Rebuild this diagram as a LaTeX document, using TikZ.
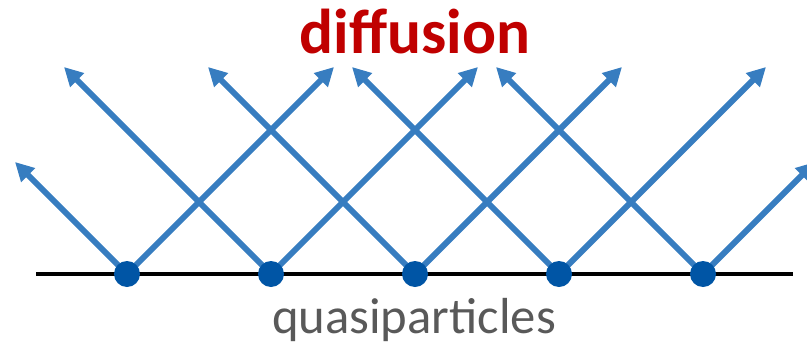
\documentclass[tikz,border=0pt]{standalone}
\usepackage{fontspec}
\setmainfont{Carlito}
\usepackage{tikz}
\usetikzlibrary{
    arrows.meta
}
\definecolor{rayblue}{RGB}{55,125,192}
\definecolor{dotblue}{RGB}{0,85,165}
\definecolor{titlered}{RGB}{192,0,0}
\definecolor{labelgray}{RGB}{89,89,89}

\tikzset{
    ray/.style={rayblue, line width=4.5pt, -{Triangle[length=14pt,width=14pt]}},
    qdot/.style={circle, fill=dotblue, inner sep=0pt, minimum size=19.5pt}
}

\begin{document}
\begin{tikzpicture}[x=0.75pt,y=0.75pt]

\useasboundingbox (0,0) rectangle (807,344);
\clip (0,0) rectangle (807,344);

% Ground line
\coordinate (lineL) at (36,70);
\coordinate (lineR) at (793,70);
\draw[line width=3pt] (lineL) -- (lineR);

% Dot positions
\coordinate (q1) at (127,70);
\coordinate (q2) at (271,70);
\coordinate (q3) at (415,70);
\coordinate (q4) at (559,70);
\coordinate (q5) at (703,70);

% Arrow tips
\coordinate (t1l) at (15,182);
\coordinate (t1r) at (334,277);
\coordinate (t2l) at (64,277);
\coordinate (t2r) at (478,277);
\coordinate (t3l) at (208,277);
\coordinate (t3r) at (622,277);
\coordinate (t4l) at (352,277);
\coordinate (t4r) at (766,277);
\coordinate (t5l) at (496,277);
\coordinate (t5r) at (815,182);

% Rays
\draw[ray] (q1) -- (t1l);
\draw[ray] (q1) -- (t1r);
\draw[ray] (q2) -- (t2l);
\draw[ray] (q2) -- (t2r);
\draw[ray] (q3) -- (t3l);
\draw[ray] (q3) -- (t3r);
\draw[ray] (q4) -- (t4l);
\draw[ray] (q4) -- (t4r);
\draw[ray] (q5) -- (t5l);
\draw[ray] (q5) -- (t5r);

% Quasiparticles
\node[qdot] (d1) at (q1) {};
\node[qdot] (d2) at (q2) {};
\node[qdot] (d3) at (q3) {};
\node[qdot] (d4) at (q4) {};
\node[qdot] (d5) at (q5) {};

% Labels
\node[anchor=base, text=titlered, font=\fontsize{47.5}{50}\selectfont\bfseries, inner sep=0pt] (title) at (415,291) {diffusion};
\node[anchor=base, text=labelgray, font=\fontsize{38}{40}\selectfont, inner sep=0pt] (qlabel) at (414,11) {quasiparticles};

\end{tikzpicture}
\end{document}
